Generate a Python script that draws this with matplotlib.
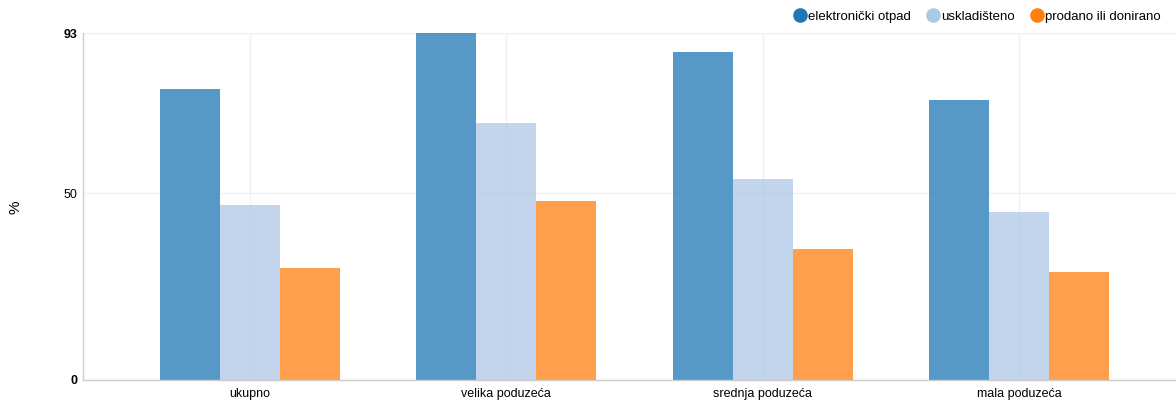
import matplotlib
matplotlib.use("Agg")
import matplotlib.pyplot as plt
from matplotlib.lines import Line2D
import numpy as np

plt.rcParams['font.family'] = ['Liberation Sans', 'DejaVu Sans']

categories = ["ukupno", "velika poduzeća", "srednja poduzeća", "mala poduzeća"]
series_names = ["elektronički otpad", "uskladišteno", "prodano ili donirano"]
elektronicki = [78, 93, 88, 75]
uskladisteno = [47, 69, 54, 45]
prodano = [30, 48, 35, 29]
colors = ["#1f77b4", "#aec7e8", "#ff7f0e"]
y_ticks = [0, 50, 93]

W, H = 1176, 404
fig = plt.figure(figsize=(W/100, H/100), dpi=100)
ax = fig.add_axes([83/W, (H-380)/H, (W-83)/W, (380-33)/H])

x = np.arange(len(categories))
bw = 0.234
for i, (vals, c) in enumerate(zip([elektronicki, uskladisteno, prodano], colors)):
    ax.bar(x + (i-1)*bw, vals, width=bw, color=c, alpha=0.75, zorder=2, linewidth=0)

ax.set_xlim(-0.652, 3.613)
ax.set_ylim(0, 93)
ax.set_yticks(y_ticks)
ax.set_yticklabels([str(t) for t in y_ticks], fontsize=9)
for lbl, t in zip(ax.get_yticklabels(), y_ticks):
    if t in (0, 93):
        lbl.set_fontweight('bold')
ax.set_xticks(x)
ax.set_xticklabels(categories, fontsize=9)
ax.tick_params(axis='both', length=0, pad=4)
ax.tick_params(axis='x', pad=6)

ax.grid(True, color="#f0f0f0", linewidth=1, zorder=0)
for s in ['top', 'right']:
    ax.spines[s].set_visible(False)
for s in ['left', 'bottom']:
    ax.spines[s].set_color("#cccccc")
    ax.spines[s].set_linewidth(1)

fig.text(15/W, 1-207/H, "%", rotation=90, ha='center', va='center', fontsize=11)

handles = [Line2D([0], [0], marker='o', linestyle='', markersize=9.5,
                  markerfacecolor=c, markeredgecolor=c) for c in colors]
fig.legend(handles, series_names, loc='center right', bbox_to_anchor=(1161/W, 1-17/H),
           ncol=3, frameon=False, fontsize=9.5, handlelength=1.0, handletextpad=0.1,
           columnspacing=1.2, borderaxespad=0, borderpad=0)

fig.savefig("out.png", dpi=100)
